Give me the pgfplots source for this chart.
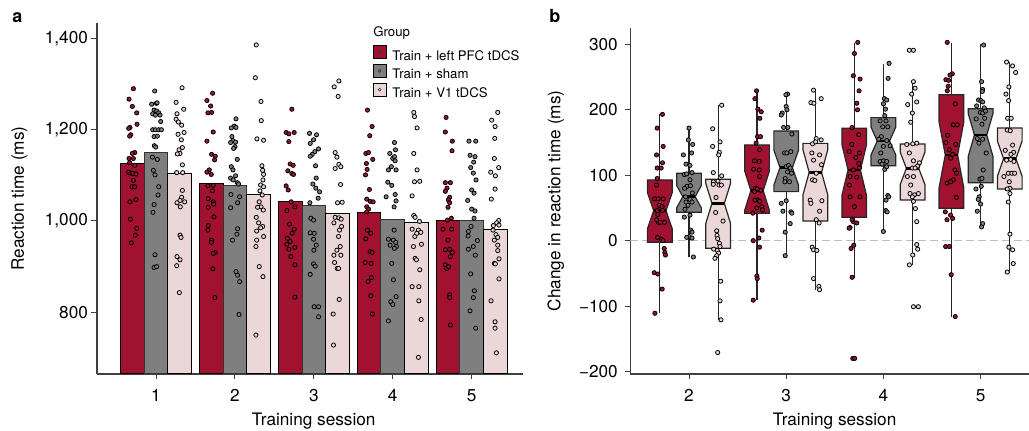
\documentclass[border=0pt]{standalone}
\usepackage{pgfplots}
\pgfplotsset{compat=1.18}
\usepackage{pgfplotstable}
\usepackage{fontspec}
\setmainfont{TeX Gyre Heros}

\definecolor{pfc}{HTML}{A0122F}
\definecolor{sham}{HTML}{7F7F7F}
\definecolor{vone}{HTML}{ECD7D8}

% ---------- panel a: per-participant mean reaction time (jittered x, RT in ms)
\pgfplotstableread{
x y
0.713 1290
0.658 1267
0.700 1251
0.755 1237
0.670 1205
0.654 1203
0.759 1212
0.679 1189
0.666 1186
0.730 1150
0.700 1148
0.658 1137
0.713 1137
0.666 1128
0.730 1122
0.654 1107
0.683 1105
0.708 1104
0.746 1103
0.713 1089
0.696 1075
0.730 1075
0.746 1047
0.670 1042
0.675 1004
0.755 984
0.738 969
0.687 952
1.717 1280
1.645 1264
1.692 1252
1.704 1238
1.658 1237
1.725 1195
1.645 1175
1.704 1146
1.751 1142
1.742 1134
1.675 1112
1.645 1107
1.700 1102
1.658 1077
1.725 1078
1.713 1066
1.662 1049
1.725 1042
1.730 1037
1.662 1030
1.734 1009
1.662 990
1.658 980
1.704 958
1.700 953
1.751 931
1.725 929
1.721 895
1.746 832
2.721 1245
2.649 1194
2.683 1191
2.751 1194
2.683 1174
2.700 1125
2.738 1122
2.670 1110
2.721 1104
2.742 1102
2.649 1077
2.675 1068
2.713 1042
2.759 1031
2.658 1023
2.692 993
2.751 982
2.725 973
2.666 962
2.700 955
2.658 949
2.759 942
2.683 938
2.708 922
2.759 904
2.759 833
3.679 1243
3.738 1207
3.708 1187
3.658 1148
3.692 1150
3.666 1126
3.746 1135
3.675 1113
3.654 1101
3.704 1069
3.670 1048
3.713 1043
3.751 1042
3.670 1031
3.692 1026
3.670 1020
3.679 980
3.721 973
3.658 961
3.713 933
3.738 931
3.649 909
3.725 907
3.687 867
3.730 876
3.721 836
3.742 796
4.675 1227
4.666 1195
4.751 1154
4.755 1175
4.666 1084
4.730 1084
4.687 1072
4.666 1065
4.721 1052
4.704 1046
4.721 1040
4.700 1030
4.742 1006
4.692 1002
4.637 982
4.746 982
4.700 958
4.666 937
4.721 938
4.755 931
4.730 922
4.666 904
4.683 896
4.708 900
4.721 838
4.721 832
4.730 772
}\rtPFC

\pgfplotstableread{
x y
0.983 1285
0.945 1256
1.004 1258
1.013 1259
0.975 1243
1.008 1241
1.034 1237
0.958 1235
0.992 1232
1.051 1232
1.059 1218
0.958 1200
0.992 1200
1.034 1200
1.068 1200
0.975 1185
1.017 1186
0.979 1165
0.996 1162
0.954 1140
1.017 1135
0.966 1111
0.987 1101
1.034 1075
1.025 1057
0.975 1036
0.962 1019
0.987 926
0.975 898
1.008 900
2.013 1224
1.992 1208
1.954 1204
2.013 1205
1.962 1185
1.975 1176
2.008 1173
1.945 1172
2.000 1163
1.983 1159
2.030 1135
1.954 1119
1.975 1112
2.008 1099
1.945 1094
1.979 1090
2.030 1084
2.046 1081
1.949 1058
2.059 1053
1.945 1029
2.034 1040
2.034 983
2.025 971
1.970 958
2.013 889
2.034 881
2.059 867
2.051 795
2.945 1192
3.034 1189
2.996 1178
2.954 1170
3.059 1158
3.013 1152
2.979 1146
2.954 1142
3.021 1121
3.030 1094
2.987 1081
3.025 1072
3.072 1064
3.055 1050
2.949 1040
2.962 1006
2.996 1002
2.954 974
3.004 973
2.996 960
3.030 947
3.000 936
2.996 906
3.017 901
2.954 883
3.004 812
3.059 812
3.059 790
4.021 1172
3.962 1148
4.034 1156
3.945 1112
3.983 1119
4.042 1112
4.000 1137
4.030 1132
4.021 1141
3.937 1085
3.987 1078
3.916 1053
4.030 1058
4.042 1044
4.017 1031
4.017 980
3.945 960
4.008 958
4.038 953
3.966 947
4.046 944
4.021 940
3.987 907
4.008 871
4.042 834
3.975 823
4.000 817
3.945 781
4.966 1175
5.051 1175
4.979 1144
5.042 1141
5.025 1129
4.987 1117
5.021 1105
5.055 1090
5.000 1068
5.030 1061
4.949 1045
5.000 1026
5.042 1022
5.030 1006
4.992 988
4.958 977
4.954 967
5.072 957
5.021 944
4.958 938
5.046 925
4.987 884
5.034 847
5.021 832
4.979 803
5.051 765
}\rtSham

\pgfplotstableread{
x y
1.330 1292
1.254 1260
1.351 1245
1.266 1235
1.254 1223
1.283 1217
1.325 1210
1.279 1190
1.355 1194
1.321 1178
1.292 1156
1.334 1161
1.304 1148
1.270 1147
1.334 1123
1.262 1106
1.338 1106
1.334 1067
1.325 1052
1.304 1045
1.266 1040
1.363 1042
1.308 1031
1.304 969
1.317 964
1.266 922
1.304 915
1.262 902
1.296 843
2.270 1386
2.258 1314
2.330 1262
2.334 1220
2.279 1180
2.363 1177
2.342 1121
2.351 1111
2.363 1102
2.355 1090
2.325 1079
2.363 1075
2.317 1066
2.346 1057
2.308 1042
2.330 1031
2.287 1030
2.359 1024
2.270 1008
2.300 996
2.351 988
2.325 985
2.275 978
2.363 966
2.275 958
2.266 944
2.308 900
2.355 878
2.266 750
3.317 1307
3.258 1294
3.308 1273
3.270 1150
3.292 1140
3.317 1124
3.342 1119
3.270 1115
3.338 1080
3.300 1040
3.359 1041
3.270 1008
3.317 1007
3.346 1004
3.254 996
3.351 988
3.325 980
3.313 966
3.334 944
3.292 936
3.342 925
3.254 925
3.262 909
3.296 896
3.313 896
3.321 828
3.245 796
3.249 728
4.266 1238
4.275 1229
4.308 1204
4.266 1148
4.308 1112
4.275 1086
4.342 1087
4.245 1055
4.266 1012
4.283 1008
4.338 999
4.245 982
4.325 980
4.355 975
4.279 966
4.304 973
4.363 949
4.262 944
4.283 918
4.300 915
4.342 893
4.245 856
4.330 856
4.330 825
4.359 784
4.325 701
5.330 1238
5.254 1221
5.296 1207
5.292 1181
5.287 1137
5.342 1117
5.241 1107
5.300 1099
5.296 1070
5.249 1048
5.342 1001
5.317 996
5.275 990
5.346 991
5.270 980
5.308 970
5.330 964
5.287 958
5.330 947
5.330 935
5.346 917
5.287 907
5.300 906
5.346 873
5.245 825
5.296 779
5.296 765
5.313 711
}\rtVone

% ---------- panel b: change in reaction time relative to session 1 (ms)
\pgfplotstableread{
x y
1.727 193
1.673 172
1.734 144
1.666 131
1.727 119
1.673 111
1.714 111
1.673 95
1.666 85
1.645 64
1.683 64
1.734 64
1.693 54
1.724 52
1.673 46
1.727 46
1.679 40
1.686 28
1.707 28
1.748 28
1.666 32
1.676 5
1.717 2
1.734 0
1.745 -12
1.751 -18
1.758 -22
1.642 -49
1.679 -51
1.724 -74
1.649 -111
2.695 229
2.678 217
2.709 201
2.743 197
2.729 187
2.705 159
2.736 159
2.691 149
2.726 139
2.674 122
2.722 121
2.664 109
2.722 108
2.726 98
2.685 80
2.674 75
2.739 77
2.702 79
2.705 62
2.726 60
2.678 62
2.750 52
2.698 50
2.757 47
2.657 42
2.661 0
2.719 4
2.753 16
2.726 -10
2.698 -54
2.702 -58
2.661 -91
3.736 303
3.702 286
3.691 252
3.760 247
3.750 229
3.726 210
3.733 200
3.678 173
3.746 162
3.674 147
3.753 134
3.647 136
3.715 127
3.746 118
3.691 108
3.753 111
3.657 98
3.726 97
3.650 85
3.760 67
3.702 52
3.657 67
3.691 29
3.678 32
3.726 27
3.657 20
3.647 19
3.667 -12
3.695 -7
3.678 -56
3.685 -180
3.705 -180
4.657 303
4.709 255
4.685 253
4.643 246
4.671 245
4.667 236
4.657 229
4.739 209
4.719 177
4.760 177
4.661 161
4.643 150
4.743 147
4.712 132
4.678 139
4.691 126
4.736 108
4.753 103
4.657 88
4.719 93
4.691 90
4.750 66
4.637 44
4.691 39
4.712 34
4.654 32
4.640 -9
4.678 -9
4.698 -52
4.739 -116
}\dPFC

\pgfplotstableread{
x y
2.000 172
1.993 154
2.038 147
1.942 131
2.027 134
1.969 117
2.010 115
2.031 104
1.952 101
1.976 102
2.010 93
1.979 83
2.014 84
1.955 80
2.034 73
1.966 67
2.010 63
2.031 59
1.969 59
1.990 54
1.959 48
2.010 39
1.952 36
2.017 16
2.031 13
2.003 6
1.976 5
2.031 4
2.045 -25
3.014 224
2.997 223
2.959 195
2.949 192
3.000 205
3.007 200
3.017 173
2.973 173
3.058 163
2.983 134
3.007 134
3.048 136
3.000 113
3.024 115
3.041 111
3.055 103
3.014 105
2.990 95
2.986 90
3.034 90
2.949 57
3.000 61
2.966 45
3.048 44
3.058 42
2.990 13
3.041 26
2.990 -23
4.058 271
4.048 248
4.010 217
4.034 215
4.000 209
4.021 201
4.014 191
3.966 183
4.027 183
3.993 174
4.045 174
3.979 159
4.034 153
3.952 155
4.000 144
4.069 145
3.973 134
3.966 121
4.000 122
4.034 121
3.986 117
4.014 109
4.034 113
4.045 69
4.055 67
4.027 62
4.024 46
4.038 44
4.000 14
5.031 299
5.010 243
5.021 231
5.017 228
4.979 215
5.003 214
5.021 212
4.959 206
5.038 203
4.997 196
5.021 195
5.051 198
4.955 186
5.041 187
5.014 178
4.966 156
5.021 155
4.983 149
5.058 134
5.027 108
4.993 94
5.014 95
4.952 79
5.007 83
4.986 67
4.976 63
5.000 56
4.966 45
5.021 26
5.010 21
}\dSham

\pgfplotstableread{
x y
2.336 207
2.243 171
2.243 144
2.319 151
2.312 135
2.305 131
2.250 104
2.336 99
2.298 91
2.250 90
2.250 86
2.309 85
2.333 85
2.278 66
2.274 43
2.350 30
2.285 15
2.288 8
2.295 3
2.312 -4
2.319 -9
2.254 -13
2.291 -15
2.305 -19
2.285 -23
2.267 -27
2.326 -62
2.319 -92
2.329 -121
2.295 -171
3.281 230
3.254 211
3.285 210
3.360 217
3.360 154
3.309 156
3.271 148
3.302 151
3.264 134
3.281 123
3.343 131
3.363 116
3.309 103
3.271 93
3.295 92
3.247 62
3.254 57
3.367 61
3.343 45
3.309 32
3.339 27
3.267 -10
3.281 -14
3.315 -15
3.281 -58
3.336 -70
3.343 -75
4.267 291
4.309 291
4.309 243
4.326 233
4.291 224
4.343 212
4.250 208
4.298 195
4.281 181
4.343 149
4.302 148
4.240 147
4.267 134
4.309 122
4.370 119
4.350 114
4.298 111
4.326 111
4.247 98
4.309 98
4.281 85
4.274 72
4.360 72
4.319 70
4.298 67
4.309 60
4.329 49
4.343 29
4.343 -6
4.353 -13
4.302 -22
4.267 -37
4.309 -101
4.360 -101
5.267 273
5.329 267
5.360 257
5.291 235
5.261 224
5.288 214
5.278 187
5.315 187
5.274 169
5.305 168
5.329 146
5.254 138
5.339 135
5.312 132
5.267 123
5.309 124
5.343 121
5.285 103
5.322 103
5.350 103
5.240 98
5.295 90
5.302 80
5.274 79
5.302 72
5.285 59
5.302 10
5.291 -10
5.329 -14
5.336 -35
5.274 -48
}\dVone

% notched box: #1 centre, #2 lower hinge, #3 notch low, #4 median,
% #5 notch high, #6 upper hinge, #7 lower whisker, #8 upper whisker, #9 fill
\newcommand{\nbox}[9]{%
  \pgfmathsetmacro{\nbxl}{#1-0.127}%
  \pgfmathsetmacro{\nbxr}{#1+0.127}%
  \pgfmathsetmacro{\nbnl}{#1-0.0635}%
  \pgfmathsetmacro{\nbnr}{#1+0.0635}%
  \addplot[forget plot, draw=black!85, line width=0.6pt] coordinates {(#1,#7) (#1,#8)};
  \addplot[forget plot, fill=#9, draw=black!85, line width=0.6pt, line join=miter]
    coordinates {(\nbxl,#2) (\nbxr,#2) (\nbxr,#3) (\nbnr,#4) (\nbxr,#5) (\nbxr,#6)
                 (\nbxl,#6) (\nbxl,#5) (\nbnl,#4) (\nbxl,#3)} --cycle;
  \addplot[forget plot, draw=black, line width=1.3pt] coordinates {(\nbnl,#4) (\nbnr,#4)};
}

\newcommand{\lblfont}{\fontsize{8.6}{10}\selectfont}

\pgfplotsset{
  panel/.style={
    scale only axis, anchor=south west, clip=true,
    axis x line*=bottom, axis y line*=left,
    axis line style={-, black!75, line width=0.55pt},
    every outer x axis line/.append style={-},
    every outer y axis line/.append style={-},
    tick align=outside, major tick length=2.75pt,
    tick style={black!75, line width=0.5pt},
    ticklabel style={font=\lblfont},
    xticklabel style={yshift=-1.3pt},
    label style={font=\lblfont},
  },
  dots/.style={forget plot, only marks, mark=*, mark size=1.05pt,
    mark options={fill=#1, draw=black, line width=0.4pt}},
}

\begin{document}
\begin{tikzpicture}
\path[use as bounding box] (0,0) rectangle (514.5pt,215.5pt);

\node[anchor=base west, inner sep=0pt, font=\fontsize{9}{10}\selectfont\bfseries] at (6pt,204.15pt) {a};
\node[anchor=base west, inner sep=0pt, font=\fontsize{9}{10}\selectfont\bfseries] at (274.5pt,204.15pt) {b};

% ---------------- panel a
\begin{axis}[panel,
  at={(48.5pt,28.5pt)}, width=213.15pt, height=175.35pt,
  xmin=0.252, xmax=5.654, ymin=664.6, ymax=1433.4,
  xtick={1,2,3,4,5}, xticklabels={1,2,3,4,5},
  ytick={800,1000,1200,1400}, yticklabels={800,{1,000},{1,200},{1,400}},
  yticklabel style={inner sep=1.6pt},
  xlabel={Training session}, ylabel={Reaction time (ms)},
  xlabel style={at={(axis description cs:0.5083,-0.1474)}, anchor=base},
  ylabel style={at={(axis description cs:-0.182,0.5)}, anchor=center},
  legend cell align=left,
  legend style={at={(axis description cs:0.6474,0.9371)}, anchor=north west,
    draw=none, fill=none, inner sep=0pt, outer sep=0pt,
    row sep=0.35pt, column sep=2.5pt,
    font=\fontsize{6.6}{7.5}\selectfont,
    nodes={inner sep=0.5pt, text height=4.9pt, text depth=1.2pt}},
]
\addplot[forget plot, ybar, bar width=0.3, bar shift=0pt, fill=pfc, draw=black, line width=0.5pt]
  coordinates {(0.7,1126) (1.7,1082) (2.7,1042) (3.7,1019) (4.7,1000)};
\addplot[forget plot, ybar, bar width=0.3, bar shift=0pt, fill=sham, draw=black!80, line width=0.5pt]
  coordinates {(1,1151) (2,1078) (3,1035) (4,1004) (5,1000)};
\addplot[forget plot, ybar, bar width=0.3, bar shift=0pt, fill=vone, draw=black, line width=0.5pt]
  coordinates {(1.3,1104) (2.3,1058) (3.3,1017) (4.3,997) (5.3,982)};

\addplot[dots=pfc] table[x=x, y=y] {\rtPFC};
\addplot[dots=sham] table[x=x, y=y] {\rtSham};
\addplot[dots=vone] table[x=x, y=y] {\rtVone};

\addlegendimage{legend image code/.code={
  \draw[fill=pfc, draw=black, line width=0.4pt] (0pt,-1.0pt) rectangle (6.3pt,5.3pt);
  \draw[fill=pfc, draw=black!80, line width=0.3pt] (3.15pt,2.15pt) circle (0.75pt);}}
\addlegendentry{Train + left PFC tDCS}
\addlegendimage{legend image code/.code={
  \draw[fill=sham, draw=black, line width=0.4pt] (0pt,-1.0pt) rectangle (6.3pt,5.3pt);
  \draw[fill=sham, draw=black!80, line width=0.3pt] (3.15pt,2.15pt) circle (0.75pt);}}
\addlegendentry{Train + sham}
\addlegendimage{legend image code/.code={
  \draw[fill=vone, draw=black, line width=0.4pt] (0pt,-1.0pt) rectangle (6.3pt,5.3pt);
  \draw[fill=vone, draw=black!80, line width=0.3pt] (3.15pt,2.15pt) circle (0.75pt);}}
\addlegendentry{Train + V1 tDCS}

\node[anchor=base west, inner sep=0pt, font=\fontsize{6.6}{7.5}\selectfont]
  at (axis description cs:0.6474,0.961) {Group};
\end{axis}

% ---------------- panel b
\begin{axis}[panel,
  at={(315.15pt,28.5pt)}, width=199.35pt, height=173.15pt,
  xmin=1.396, xmax=5.498, ymin=-203.8, ymax=325.5,
  xtick={2,3,4,5}, xticklabels={2,3,4,5},
  ytick={-200,-100,0,100,200,300}, yticklabels={−200,−100,0,100,200,300},
  yticklabel style={inner sep=3.3pt},
  xlabel={Training session}, ylabel={Change in reaction time (ms)},
  xlabel style={at={(axis description cs:0.5124,-0.1493)}, anchor=base},
  ylabel style={at={(axis description cs:-0.187,0.5)}, anchor=center},
]
\addplot[forget plot, draw=black!25, line width=0.75pt, dash pattern=on 4pt off 2pt]
  coordinates {(1.396,0) (5.498,0)};

\nbox{1.7}{-2.5}{18.3}{45.8}{73.3}{92.7}{-111}{193}{pfc}
\nbox{2.0}{43.3}{50.0}{67.2}{84.4}{102.9}{-24.5}{172.7}{sham}
\nbox{2.3}{-11.7}{26.6}{57.0}{87.4}{93.7}{-121}{207.3}{vone}
\nbox{2.7}{41.8}{46.3}{76.4}{106.5}{146.2}{-90.7}{229}{pfc}
\nbox{3.0}{74.9}{84.9}{111.6}{138.3}{167.6}{-23.4}{225}{sham}
\nbox{3.3}{30.0}{70.2}{104.4}{138.6}{148.7}{-75.4}{231.3}{vone}
\nbox{3.7}{35.7}{68.8}{108.0}{147.2}{171.7}{-57.6}{301.6}{pfc}
\nbox{4.0}{114.6}{131.1}{152.3}{173.5}{188.0}{14.8}{270}{sham}
\nbox{4.3}{62.2}{85.8}{110.5}{135.2}{147.7}{-37.2}{244}{vone}
\nbox{4.7}{49.4}{80.9}{131.0}{181.1}{223.0}{-116}{301.6}{pfc}
\nbox{5.0}{88.6}{128.9}{161.5}{194.1}{201.7}{21.4}{300}{sham}
\nbox{5.3}{79.0}{98.4}{125.3}{152.2}{172.2}{-49}{273.6}{vone}

\addplot[dots=pfc] table[x=x, y=y] {\dPFC};
\addplot[dots=sham] table[x=x, y=y] {\dSham};
\addplot[dots=vone] table[x=x, y=y] {\dVone};
\end{axis}
\end{tikzpicture}
\end{document}
